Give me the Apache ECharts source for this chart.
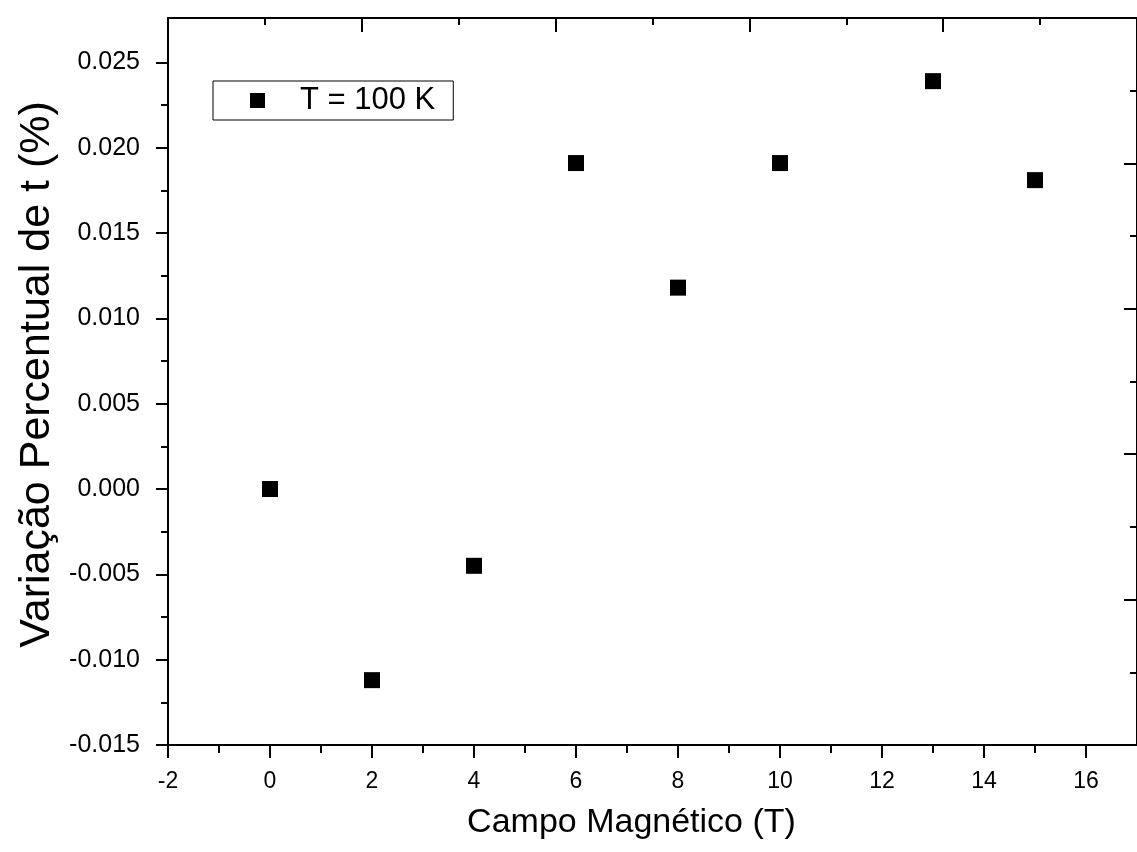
<!DOCTYPE html>
<html>
<head>
<meta charset="utf-8">
<script src="https://cdn.jsdelivr.net/npm/echarts@6/dist/echarts.min.js"></script>
<style>
  html, body { margin: 0; padding: 0; background: #fff; }
  #chart { width: 1137px; height: 852px; }
</style>
</head>
<body>
<div id="chart"></div>
<script>
var fieldT = [0, 2, 4, 6, 8, 10, 13, 15];
var variation = [0.0000, -0.0112, -0.0045, 0.0191, 0.0118, 0.0191, 0.0239, 0.0181];
var seriesName = 'T = 100 K';

var xMajorTicks = [-2, 0, 2, 4, 6, 8, 10, 12, 14, 16];
var xMinorTicks = [-1, 1, 3, 5, 7, 9, 11, 13, 15];
var yMajorTicks = [-0.015, -0.010, -0.005, 0.000, 0.005, 0.010, 0.015, 0.020, 0.025];
var yMinorTicks = [-0.0125, -0.0075, -0.0025, 0.0025, 0.0075, 0.0125, 0.0175, 0.0225];

var myChart = echarts.init(document.getElementById('chart'));
var font = 'Arial, "Liberation Sans", sans-serif';
var black = '#000';

var data = [];
for (var i = 0; i < fieldT.length; i++) {
    data.push([fieldT[i], variation[i]]);
}

var gridBox = { left: 168, top: 18, right: -6, bottom: 107 };
var axisLineStyle = { show: true, onZero: false, lineStyle: { color: black, width: 2 } };
var tickLine = { color: black, width: 2 };

var option = {
    backgroundColor: '#fff',
    animation: false,
    textStyle: { fontFamily: font },
    grid: [
        Object.assign({}, gridBox),
        Object.assign({}, gridBox)
    ],
    legend: {
        left: 213,
        top: 81,
        orient: 'vertical',
        borderColor: black,
        borderWidth: 1,
        borderRadius: 0,
        padding: [4, 18, 4, 37],
        itemWidth: 15,
        itemHeight: 15,
        icon: 'rect',
        textStyle: {
            color: black,
            fontSize: 31,
            lineHeight: 31,
            fontFamily: font,
            padding: [0, 0, 0, 30]
        },
        data: [seriesName]
    },
    xAxis: [{
        gridIndex: 0,
        type: 'value',
        position: 'bottom',
        min: -2,
        max: 17,
        name: 'Campo Magnético (T)',
        nameLocation: 'middle',
        nameGap: 61,
        nameTextStyle: {
            color: black,
            fontSize: 34,
            fontFamily: font,
            padding: [0, 42, 0, 0]
        },
        axisLine: axisLineStyle,
        axisTick: {
            show: true,
            length: 13,
            customValues: xMajorTicks,
            lineStyle: tickLine
        },
        axisLabel: {
            customValues: xMajorTicks,
            color: black,
            fontSize: 23,
            margin: 25,
            fontFamily: font
        },
        splitLine: { show: false }
    }, {
        gridIndex: 0,
        type: 'value',
        position: 'top',
        min: 0,
        max: 10,
        interval: 2,
        axisLine: axisLineStyle,
        axisTick: {
            show: true,
            inside: true,
            length: 14,
            lineStyle: tickLine
        },
        minorTick: {
            show: true,
            splitNumber: 2,
            length: 7,
            lineStyle: tickLine
        },
        axisLabel: { show: false },
        splitLine: { show: false }
    }, {
        gridIndex: 1,
        type: 'value',
        position: 'bottom',
        min: -2,
        max: 17,
        axisLine: { show: false, onZero: false },
        axisTick: {
            show: true,
            length: 8,
            customValues: xMinorTicks,
            lineStyle: tickLine
        },
        axisLabel: { show: false },
        splitLine: { show: false }
    }],
    yAxis: [{
        gridIndex: 0,
        type: 'value',
        position: 'left',
        min: -0.015,
        max: 0.0276,
        name: 'Variação Percentual de t (%)',
        nameLocation: 'middle',
        nameGap: 108,
        nameTextStyle: {
            color: black,
            fontSize: 43,
            fontFamily: font,
            padding: [0, 0, 0, 14]
        },
        axisLine: axisLineStyle,
        axisTick: {
            show: true,
            length: 12,
            customValues: yMajorTicks,
            lineStyle: tickLine
        },
        axisLabel: {
            customValues: yMajorTicks,
            color: black,
            fontSize: 25,
            margin: 28,
            fontFamily: font,
            formatter: function (value) {
                return value.toFixed(3);
            }
        },
        splitLine: { show: false }
    }, {
        gridIndex: 0,
        type: 'value',
        position: 'right',
        min: 0,
        max: 10,
        interval: 2,
        axisLine: axisLineStyle,
        axisTick: {
            show: true,
            inside: true,
            length: 13,
            lineStyle: tickLine
        },
        minorTick: {
            show: true,
            splitNumber: 2,
            length: 7,
            lineStyle: tickLine
        },
        axisLabel: { show: false },
        splitLine: { show: false }
    }, {
        gridIndex: 1,
        type: 'value',
        position: 'left',
        min: -0.015,
        max: 0.0276,
        axisLine: { show: false, onZero: false },
        axisTick: {
            show: true,
            length: 7,
            customValues: yMinorTicks,
            lineStyle: tickLine
        },
        axisLabel: { show: false },
        splitLine: { show: false }
    }],
    series: [{
        name: seriesName,
        type: 'scatter',
        xAxisIndex: 0,
        yAxisIndex: 0,
        symbol: 'rect',
        symbolSize: 16,
        itemStyle: { color: black, opacity: 1 },
        data: data
    }]
};

myChart.setOption(option);
</script>
</body>
</html>
